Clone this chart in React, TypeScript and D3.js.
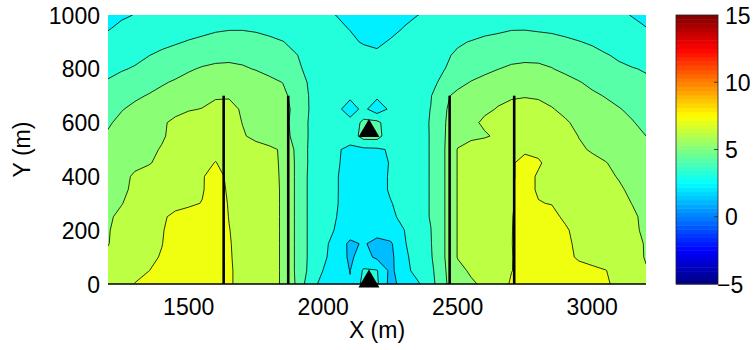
import React, { useEffect, useRef } from "react";
import * as d3 from "d3";

// grid of the field, sampled every 50 m; first row is y = 1000, last row y = 0,
// columns run x = 1200 ... 3200
const gridX0 = 1200;
const gridY0 = 1000;
const gridStep = 50;

const zGrid: number[][] = [
  [3.0, 3.1, 3.22, 3.3, 3.38, 3.45, 3.5, 3.55, 3.6, 3.62, 3.62, 3.6, 3.57, 3.53, 3.48, 3.42, 3.32, 3.19, 3.05, 2.95, 2.9, 2.95, 3.08, 3.19, 3.3, 3.38, 3.45, 3.5, 3.55, 3.6, 3.62, 3.62, 3.6, 3.57, 3.52, 3.47, 3.42, 3.35, 3.27, 3.18, 3.05],
  [3.15, 3.35, 3.5, 3.6, 3.7, 3.8, 3.9, 4.0, 4.1, 4.15, 4.15, 4.1, 4.0, 3.9, 3.75, 3.6, 3.45, 3.3, 3.18, 3.0, 2.95, 3.05, 3.22, 3.4, 3.55, 3.7, 3.8, 3.9, 4.0, 4.05, 4.15, 4.15, 4.1, 4.05, 3.95, 3.85, 3.75, 3.6, 3.45, 3.3, 3.22],
  [3.45, 3.6, 3.75, 3.9, 4.0, 4.12, 4.25, 4.35, 4.45, 4.5, 4.5, 4.45, 4.35, 4.22, 4.0, 3.8, 3.6, 3.45, 3.3, 3.15, 3.1, 3.25, 3.45, 3.6, 3.8, 3.95, 4.12, 4.23, 4.35, 4.45, 4.5, 4.55, 4.5, 4.45, 4.35, 4.23, 4.1, 3.95, 3.8, 3.65, 3.5],
  [3.75, 3.9, 4.05, 4.18, 4.35, 4.5, 4.65, 4.8, 4.9, 4.95, 4.95, 4.9, 4.75, 4.55, 4.23, 3.95, 3.75, 3.6, 3.5, 3.4, 3.3, 3.45, 3.6, 3.8, 3.95, 4.1, 4.3, 4.5, 4.65, 4.8, 4.9, 4.95, 4.95, 4.9, 4.75, 4.6, 4.45, 4.25, 4.1, 3.95, 3.8],
  [4.05, 4.15, 4.25, 4.45, 4.65, 4.85, 5.1, 5.28, 5.4, 5.42, 5.3, 5.15, 4.95, 4.7, 4.35, 4.0, 3.8, 3.65, 3.55, 3.5, 3.45, 3.55, 3.7, 3.85, 4.0, 4.18, 4.45, 4.7, 4.95, 5.18, 5.35, 5.42, 5.38, 5.23, 5.0, 4.8, 4.6, 4.45, 4.32, 4.23, 4.15],
  [4.25, 4.4, 4.6, 4.85, 5.1, 5.3, 5.5, 5.7, 5.85, 5.9, 5.8, 5.6, 5.4, 5.18, 4.6, 4.1, 3.85, 3.7, 3.6, 3.55, 3.55, 3.6, 3.75, 3.9, 4.0, 4.4, 4.9, 5.25, 5.5, 5.7, 5.85, 5.95, 5.9, 5.7, 5.5, 5.25, 5.0, 4.8, 4.6, 4.45, 4.3],
  [4.57, 4.8, 5.05, 5.25, 5.45, 5.65, 5.85, 6.0, 6.12, 6.12, 6.0, 5.8, 5.6, 5.45, 4.75, 4.15, 3.8, 3.55, 3.4, 3.45, 3.4, 3.5, 3.7, 3.95, 4.15, 5.0, 5.45, 5.7, 5.9, 6.02, 6.12, 6.15, 6.1, 5.95, 5.75, 5.55, 5.35, 5.15, 4.9, 4.7, 4.5],
  [4.83, 5.15, 5.4, 5.6, 5.8, 6.0, 6.15, 6.22, 6.4, 6.45, 6.1, 5.95, 5.75, 5.5, 4.95, 4.15, 3.75, 3.45, 2.75, 3.45, 2.6, 3.4, 3.6, 3.85, 4.22, 5.1, 5.6, 5.85, 6.05, 6.25, 6.4, 6.5, 6.45, 6.25, 6.0, 5.8, 5.6, 5.45, 5.25, 5.0, 4.73],
  [5.1, 5.4, 5.7, 5.9, 6.1, 6.35, 6.5, 6.6, 6.65, 6.55, 6.18, 5.95, 5.75, 5.5, 4.85, 4.1, 3.7, 3.45, 3.5, 4.45, 4.45, 3.55, 3.65, 3.9, 4.25, 5.15, 5.6, 6.0, 6.35, 6.55, 6.7, 6.75, 6.7, 6.55, 6.3, 6.0, 5.8, 5.6, 5.45, 5.25, 4.96],
  [5.3, 5.55, 5.8, 5.95, 6.12, 6.4, 6.6, 6.75, 6.85, 6.7, 6.28, 6.0, 5.8, 5.55, 4.9, 4.1, 3.7, 3.5, 3.6, 4.6, 4.6, 3.5, 3.6, 3.85, 4.25, 5.15, 5.8, 6.0, 6.1, 6.35, 6.8, 6.95, 7.0, 6.85, 6.55, 6.18, 6.0, 5.8, 5.6, 5.4, 5.2],
  [5.4, 5.6, 5.85, 6.05, 6.25, 6.5, 6.75, 6.95, 7.05, 6.9, 6.7, 6.5, 6.35, 6.1, 5.0, 4.05, 3.6, 3.3, 3.0, 3.0, 3.05, 3.3, 3.55, 3.85, 4.25, 5.15, 6.25, 6.6, 6.8, 6.95, 7.05, 7.12, 7.1, 6.9, 6.6, 6.32, 6.12, 5.95, 5.75, 5.55, 5.3],
  [5.5, 5.7, 5.95, 6.15, 6.35, 6.6, 6.85, 7.05, 7.22, 7.0, 6.8, 6.6, 6.4, 6.1, 5.05, 4.05, 3.55, 3.3, 2.9, 2.85, 2.9, 3.25, 3.55, 3.85, 4.25, 5.15, 6.25, 6.55, 6.75, 6.95, 7.15, 7.35, 7.25, 7.05, 6.85, 6.6, 6.4, 6.23, 6.0, 5.75, 5.45],
  [5.65, 5.9, 6.35, 6.45, 6.65, 6.85, 7.0, 7.15, 7.45, 7.05, 6.85, 6.65, 6.45, 6.1, 5.05, 4.0, 3.5, 3.25, 2.85, 2.8, 2.85, 3.3, 3.55, 3.85, 4.25, 5.15, 6.25, 6.6, 6.85, 7.0, 7.15, 7.35, 7.15, 7.05, 6.9, 6.7, 6.5, 6.35, 6.15, 5.9, 5.6],
  [5.8, 6.05, 6.35, 6.55, 6.75, 6.95, 7.05, 7.15, 7.5, 7.1, 6.9, 6.7, 6.5, 6.1, 5.05, 4.0, 3.5, 3.25, 2.85, 2.8, 2.85, 3.3, 3.55, 3.85, 4.25, 5.15, 6.25, 6.6, 6.85, 7.05, 7.17, 7.35, 7.15, 7.1, 7.0, 6.85, 6.7, 6.5, 6.3, 6.05, 5.75],
  [5.95, 6.17, 6.45, 6.65, 6.85, 7.0, 7.1, 7.22, 7.55, 7.15, 6.95, 6.75, 6.5, 6.1, 5.05, 4.0, 3.45, 3.25, 2.8, 2.75, 2.8, 3.15, 3.5, 3.85, 4.25, 5.15, 6.25, 6.6, 6.85, 7.05, 7.15, 7.4, 7.22, 7.18, 7.1, 6.95, 6.8, 6.6, 6.4, 6.18, 5.9],
  [6.1, 6.35, 6.6, 6.85, 7.1, 7.35, 7.45, 7.5, 7.6, 7.18, 6.95, 6.75, 6.5, 6.1, 5.05, 4.0, 3.45, 3.2, 2.75, 2.7, 2.75, 3.0, 3.45, 3.85, 4.25, 5.15, 6.25, 6.6, 6.85, 7.05, 7.17, 7.45, 7.5, 7.35, 7.1, 6.95, 6.8, 6.65, 6.5, 6.3, 6.05],
  [6.15, 6.45, 6.7, 6.95, 7.15, 7.45, 7.55, 7.6, 7.65, 7.22, 6.95, 6.75, 6.5, 6.1, 5.05, 4.0, 3.4, 3.15, 2.7, 2.65, 2.6, 2.85, 3.18, 3.75, 4.18, 5.15, 6.25, 6.6, 6.85, 7.05, 7.18, 7.45, 7.55, 7.5, 7.28, 7.0, 6.85, 6.7, 6.55, 6.3, 6.1],
  [6.17, 6.5, 6.75, 7.0, 7.18, 7.5, 7.6, 7.65, 7.7, 7.25, 6.95, 6.75, 6.5, 6.1, 5.05, 4.0, 3.45, 2.8, 2.0, 2.3, 1.9, 2.05, 3.1, 3.7, 4.15, 5.15, 6.25, 6.6, 6.85, 7.05, 7.18, 7.5, 7.6, 7.55, 7.35, 7.05, 6.9, 6.75, 6.6, 6.4, 6.15],
  [6.35, 6.6, 6.85, 7.05, 7.25, 7.55, 7.65, 7.7, 7.75, 7.27, 6.95, 6.75, 6.5, 6.1, 5.05, 4.0, 3.4, 2.7, 2.05, 2.6, 2.0, 1.95, 2.95, 3.65, 4.1, 5.15, 6.25, 6.55, 6.8, 7.0, 7.17, 7.5, 7.6, 7.55, 7.4, 7.1, 6.95, 6.8, 6.65, 6.45, 6.15],
  [6.55, 6.8, 7.0, 7.18, 7.4, 7.6, 7.7, 7.75, 7.8, 7.3, 6.95, 6.75, 6.5, 6.1, 5.05, 3.95, 3.18, 2.6, 2.18, 3.3, 3.25, 1.95, 2.85, 3.55, 3.95, 5.1, 5.9, 6.35, 6.6, 6.85, 7.18, 7.45, 7.55, 7.6, 7.55, 7.45, 7.35, 7.22, 6.95, 6.6, 6.25],
  [6.75, 7.0, 7.22, 7.45, 7.65, 7.75, 7.8, 7.85, 7.85, 7.3, 6.95, 6.75, 6.5, 6.1, 5.1, 3.6, 2.9, 2.5, 2.25, 3.5, 3.35, 1.85, 2.6, 3.05, 3.8, 5.1, 5.6, 6.05, 6.4, 6.8, 7.3, 7.55, 7.65, 7.7, 7.65, 7.55, 7.45, 7.3, 7.0, 6.7, 6.35],
];

const levels = [1.2, 2.2, 3.2, 4.2, 5.2, 6.2, 7.2];
const colorLimits = [-5, 15];

const xTicks = [1500, 2000, 2500, 3000];
const yTicks = [0, 200, 400, 600, 800, 1000];
const cbTicks = [-5, 0, 5, 10, 15];

// vertical black lines (x positions, drawn from y = 0 to lineTop)
const lineX = [1630, 1870, 2470, 2710];
const lineTop = 700;

// triangle markers
const markerX = [2170, 2170];
const markerY = [580, 20];

function jet(v: number) {
  const f = (v - colorLimits[0]) / (colorLimits[1] - colorLimits[0]);
  const c = (o: number) =>
    Math.round(255 * Math.max(0, Math.min(1, 1.5 - Math.abs(4 * f - o))));
  return `rgb(${c(3)},${c(2)},${c(1)})`;
}

export default function App() {
  const ref = useRef<SVGSVGElement>(null);

  useEffect(() => {
    const svg = d3.select(ref.current);
    svg.selectAll("*").remove();

    const margin = { top: 15, left: 108 };
    const width = 538;
    const height = 269;
    const font = "'Liberation Sans', Arial, Helvetica, sans-serif";

    const x = d3.scaleLinear().domain([1200, 3200]).range([0, width]);
    const y = d3.scaleLinear().domain([0, 1000]).range([height, 0]);

    svg.append("defs").append("clipPath").attr("id", "plotClip")
      .append("rect")
      .attr("x", margin.left).attr("y", margin.top)
      .attr("width", width).attr("height", height);

    const nx = zGrid[0].length;
    const ny = zGrid.length;
    const contours = d3.contours().size([nx, ny]).thresholds(levels)(zGrid.flat());

    const proj = d3.geoTransform({
      point(px: number, py: number) {
        this.stream.point(
          x(gridX0 + (px - 0.5) * gridStep),
          y(gridY0 - (py - 0.5) * gridStep)
        );
      },
    });
    const path = d3.geoPath(proj);

    // filled contours first, everything else on top
    const fills = svg.append("g").attr("clip-path", "url(#plotClip)")
      .append("g")
      .attr("transform", "translate(" + margin.left + "," + margin.top + ")");

    fills.append("rect")
      .attr("width", width).attr("height", height)
      .attr("fill", jet(levels[0]));

    fills.selectAll("path.band")
      .data(contours)
      .enter().append("path")
        .attr("class", "band")
        .attr("d", (d: any) => path(d))
        .attr("fill", (d: any) => jet(d.value))
        .attr("stroke", "#000")
        .attr("stroke-width", 0.8)
        .attr("stroke-linejoin", "round");

    const g = svg.append("g")
      .attr("transform", "translate(" + margin.left + "," + margin.top + ")");

    // x axis baseline
    g.append("line")
      .attr("x1", 0).attr("x2", width)
      .attr("y1", height).attr("y2", height)
      .attr("stroke", "#000").attr("stroke-width", 1.3);

    g.selectAll(".vline")
      .data(lineX)
      .enter().append("line")
        .attr("class", "vline")
        .attr("x1", (d) => x(d)).attr("x2", (d) => x(d))
        .attr("y1", y(0)).attr("y2", y(lineTop))
        .attr("stroke", "#000").attr("stroke-width", 2.6);

    g.selectAll(".marker")
      .data(markerX.map((mx, i) => [mx, markerY[i]]))
      .enter().append("path")
        .attr("class", "marker")
        .attr("d", (d) => {
          const cx = x(d[0]);
          const cy = y(d[1]);
          return `M${cx - 10.5},${cy + 9}L${cx},${cy - 9}L${cx + 10.5},${cy + 9}Z`;
        })
        .attr("fill", "#000");

    g.selectAll(".xtick")
      .data(xTicks)
      .enter().append("text")
        .attr("class", "xtick")
        .attr("x", (d) => x(d))
        .attr("y", height + 31)
        .attr("text-anchor", "middle")
        .attr("font-family", font).attr("font-size", 23)
        .text((d) => String(d));

    g.selectAll(".ytick")
      .data(yTicks)
      .enter().append("text")
        .attr("class", "ytick")
        .attr("x", -8)
        .attr("y", (d) => y(d) + 8.5)
        .attr("text-anchor", "end")
        .attr("font-family", font).attr("font-size", 23)
        .text((d) => String(d));

    g.append("text")
      .attr("x", width / 2)
      .attr("y", height + 54)
      .attr("text-anchor", "middle")
      .attr("font-family", font).attr("font-size", 23)
      .text("X (m)");

    svg.append("text")
      .attr("transform", `translate(30,${margin.top + height / 2}) rotate(-90)`)
      .attr("text-anchor", "middle")
      .attr("font-family", font).attr("font-size", 23)
      .text("Y (m)");

    // colorbar
    const cbX = 676;
    const cbW = 42;
    const cb = d3.scaleLinear().domain(colorLimits).range([margin.top + height, margin.top]);
    const steps = d3.range(64);
    const stepV = (colorLimits[1] - colorLimits[0]) / 64;
    svg.selectAll(".cbstep")
      .data(steps)
      .enter().append("rect")
        .attr("class", "cbstep")
        .attr("x", cbX)
        .attr("y", (k) => cb(colorLimits[0] + (k + 1) * stepV))
        .attr("width", cbW)
        .attr("height", (k) => cb(colorLimits[0] + k * stepV) - cb(colorLimits[0] + (k + 1) * stepV) + 0.5)
        .attr("fill", (k) => jet(colorLimits[0] + (k + 0.5) * stepV));
    svg.append("rect")
      .attr("x", cbX).attr("y", margin.top)
      .attr("width", cbW).attr("height", height)
      .attr("fill", "none").attr("stroke", "#222").attr("stroke-width", 0.8);

    svg.selectAll(".cbtick")
      .data(cbTicks.slice(1, -1))
      .enter().append("line")
        .attr("class", "cbtick")
        .attr("x1", cbX + cbW - 4).attr("x2", cbX + cbW)
        .attr("y1", (d) => cb(d)).attr("y2", (d) => cb(d))
        .attr("stroke", "#222").attr("stroke-width", 0.8);

    svg.selectAll(".cblabel")
      .data(cbTicks)
      .enter().append("text")
        .attr("class", "cblabel")
        .attr("x", (d) => (d < 0 ? 717 : 725))
        .attr("y", (d) => cb(d) + 8.5)
        .attr("font-family", font).attr("font-size", 23)
        .text((d) => (d < 0 ? "\u2212" + Math.abs(d) : String(d)));
  }, []);

  return (
    <svg
      ref={ref}
      width={756}
      height={350}
      style={{ position: "absolute", left: 0, top: 0, background: "#fff" }}
    />
  );
}
